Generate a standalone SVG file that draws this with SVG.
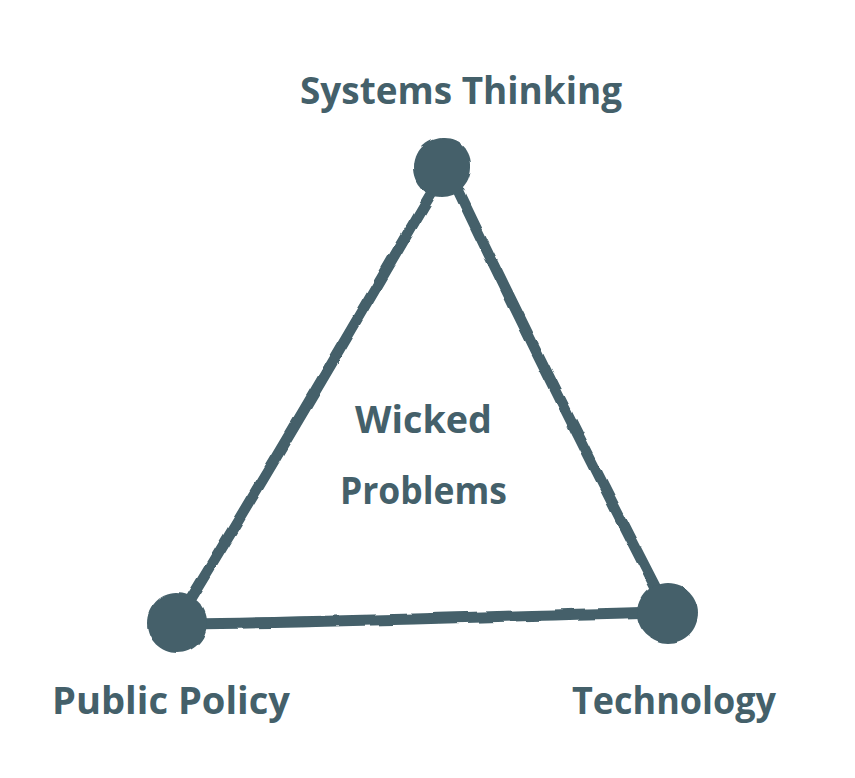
<svg xmlns="http://www.w3.org/2000/svg" width="855" height="778" viewBox="0 0 855 778">
  <defs>
    <filter id="rough" x="-10%" y="-10%" width="120%" height="120%">
      <feTurbulence type="fractalNoise" baseFrequency="0.04" numOctaves="2" seed="3" result="n"/>
      <feDisplacementMap in="SourceGraphic" in2="n" scale="4" xChannelSelector="R" yChannelSelector="G"/>
    </filter>
    <style>
      .edge { fill: none; stroke: #44606a; stroke-width: 11; stroke-linecap: round; stroke-linejoin: round; }
      .node { fill: #44606a; }
      .label { fill: #44606a; font-family: "Open Sans", "Liberation Sans", sans-serif; font-weight: 700; font-size: 37px; }
    </style>
  </defs>
  <rect width="855" height="778" fill="#ffffff"/>
  <g id="connectors" filter="url(#rough)">
    <path class="edge" d="M438,182 C380,280 300,420 183,612"/>
    <path class="edge" d="M454,182 C520,320 590,460 664,604"/>
    <path class="edge" d="M190,624 C330,622 500,616 664,612"/>
  </g>
  <g id="node-systems" filter="url(#rough)">
    <path class="node" d="M442,138 C459,137 472,150 471,168 C470,186 457,197 442,197 C426,197 414,185 414,168 C414,151 426,139 442,138 Z"/>
  </g>
  <g id="node-policy" filter="url(#rough)">
    <path class="node" d="M176,593 C193,593 207,606 207,622 C207,640 193,653 177,653 C161,653 147,640 147,623 C147,607 160,593 176,593 Z"/>
  </g>
  <g id="node-technology" filter="url(#rough)">
    <path class="node" d="M668,583 C686,583 698,597 698,613 C698,630 685,643 668,643 C652,643 638,630 638,613 C638,597 651,583 668,583 Z"/>
  </g>
  <g id="label-systems"><text class="label" x="300" y="104" textLength="322" lengthAdjust="spacingAndGlyphs">Systems Thinking</text></g>
  <g id="label-policy"><text class="label" x="52" y="714" textLength="238" lengthAdjust="spacingAndGlyphs">Public Policy</text></g>
  <g id="label-technology"><text class="label" x="572" y="714" textLength="204" lengthAdjust="spacingAndGlyphs">Technology</text></g>
  <g id="label-center">
    <text class="label" x="355" y="433" textLength="137" lengthAdjust="spacingAndGlyphs">Wicked</text>
    <text class="label" x="340" y="504" textLength="167" lengthAdjust="spacingAndGlyphs">Problems</text>
  </g>
</svg>
